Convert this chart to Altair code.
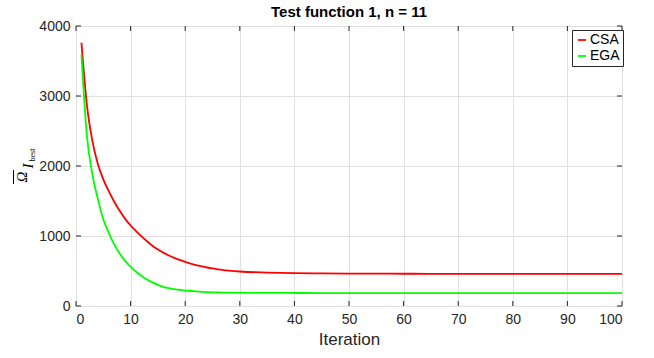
import altair as alt
import pandas as pd

iterations = list(range(1, 31)) + [35, 40, 45, 50, 55, 60, 65, 70, 75, 80, 85, 90, 95, 100]
csa = [3760, 2870, 2360, 2030, 1810, 1640, 1490, 1360, 1245, 1150,
       1070, 995, 925, 862, 808, 762, 722, 688, 658, 630,
       605, 584, 566, 550, 536, 524, 514, 506, 499, 493,
       478, 470, 466, 463, 462, 461, 460, 460, 460, 460, 460, 460, 460, 460]
ega = [3590, 2430, 1880, 1530, 1240, 1045, 880, 750, 645, 560,
       490, 430, 380, 337, 302, 274, 254, 240, 229, 221,
       214, 208, 203, 199, 196, 194, 192, 191, 190, 189,
       187, 186, 185, 185, 185, 185, 185, 185, 185, 185, 185, 185, 185, 185]
series_names = ["CSA", "EGA"]
series_colors = ["#ff0000", "#00ff00"]
x_ticks = list(range(0, 101, 10))
y_ticks = [0, 1000, 2000, 3000, 4000]
title_text = "Test function 1, n = 11"
x_title = "Iteration"
ylab_parts = ["Ω", "I", "best"]

W, H = 546, 280

rows = []
for i, it in enumerate(iterations):
    rows.append({"Iteration": it, "value": csa[i], "series": "CSA"})
    rows.append({"Iteration": it, "value": ega[i], "series": "EGA"})
df = pd.DataFrame(rows)

xs = alt.Scale(domain=[0, 100], nice=False)
ys = alt.Scale(domain=[0, 4000], nice=False)

lines = alt.Chart(df).mark_line(strokeWidth=1.8, interpolate="monotone").encode(
    x=alt.X("Iteration:Q", scale=xs,
            axis=alt.Axis(values=x_ticks, title=x_title, grid=True, gridColor="#e0e0e0",
                          ticks=False, domain=False, labelPadding=6, labelFontSize=14,
                          titleFontSize=17, titleFontWeight="normal", titlePadding=5,
                          labelColor="#262626", titleColor="#262626",
                          labelFont="Liberation Sans", titleFont="Liberation Sans")),
    y=alt.Y("value:Q", scale=ys,
            axis=alt.Axis(values=y_ticks, title=None, grid=True, gridColor="#e0e0e0",
                          ticks=False, domain=False, labelPadding=6, labelFontSize=14,
                          format="d", labelColor="#262626", labelFont="Liberation Sans")),
    color=alt.Color("series:N", scale=alt.Scale(domain=series_names, range=series_colors),
                    legend=alt.Legend(title=None, orient="none", legendX=496, legendY=4,
                                      symbolType="stroke", symbolSize=64, symbolStrokeWidth=1.8,
                                      labelFontSize=14, labelFont="Liberation Sans",
                                      labelColor="#000000", labelOffset=1, padding=3,
                                      rowPadding=2, strokeColor="#262626", fillColor="white")),
)

tick_df = pd.DataFrame({"t": x_ticks})
ytick_df = pd.DataFrame({"t": y_ticks})
tk = 5
xb = alt.Chart(tick_df).mark_rule(color="#262626", strokeWidth=1).encode(
    x=alt.X("t:Q", scale=xs), y=alt.value(H), y2=alt.value(H - tk))
xt = alt.Chart(tick_df).mark_rule(color="#262626", strokeWidth=1).encode(
    x=alt.X("t:Q", scale=xs), y=alt.value(0), y2=alt.value(tk))
yl = alt.Chart(ytick_df).mark_rule(color="#262626", strokeWidth=1).encode(
    y=alt.Y("t:Q", scale=ys), x=alt.value(0), x2=alt.value(tk))
yr = alt.Chart(ytick_df).mark_rule(color="#262626", strokeWidth=1).encode(
    y=alt.Y("t:Q", scale=ys), x=alt.value(W), x2=alt.value(W - tk))

lab_df = pd.DataFrame({"a": [ylab_parts[0]], "b": [ylab_parts[1]], "c": [ylab_parts[2]]})
t1 = alt.Chart(lab_df).mark_text(angle=270, font="Liberation Serif", fontStyle="italic",
                                 fontSize=15, align="center", baseline="middle", color="#000000").encode(
    text="a:N", x=alt.value(-54), y=alt.value(151))
bar = alt.Chart(lab_df).mark_rule(color="#000000", strokeWidth=1).encode(
    x=alt.value(-62.5), y=alt.value(144), y2=alt.value(158))
t2 = alt.Chart(lab_df).mark_text(angle=270, font="Liberation Serif", fontStyle="italic",
                                 fontSize=15, align="center", baseline="middle", color="#000000").encode(
    text="b:N", x=alt.value(-48), y=alt.value(140))
t3 = alt.Chart(lab_df).mark_text(angle=270, font="Liberation Serif",
                                 fontSize=8, align="center", baseline="middle", color="#000000").encode(
    text="c:N", x=alt.value(-43), y=alt.value(129))

chart = alt.layer(lines, xb, xt, yl, yr, t1, bar, t2, t3).properties(
    width=W, height=H,
    title=alt.TitleParams(title_text, fontSize=15, fontWeight="bold", font="Liberation Sans",
                          anchor="middle", offset=-1, color="#000000"),
    padding={"left": 76, "top": 26, "right": 32, "bottom": 52},
    autosize=alt.AutoSizeParams(type="none"),
).configure_view(stroke="#262626", strokeWidth=1).configure(background="white")

chart.save("out.html", embed_options={"renderer": "svg", "actions": False})
